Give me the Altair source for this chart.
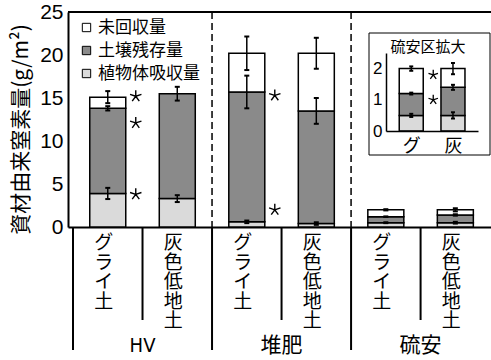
import altair as alt
import pandas as pd

# Treatments, soils and stacked components (g/m2)
groups = ["HV", "堆肥", "硫安"]
soils = ["グライ土", "灰色低地土"]
series = ["未回収量", "土壌残存量", "植物体吸収量"]
series_colors = ["#ffffff", "#8a8a8a", "#dadada"]

plant = [3.9, 3.3, 0.6, 0.4, 0.5, 0.5]
soil_resid = [9.9, 12.2, 15.1, 13.1, 0.7, 0.9]
unrecovered = [1.3, 0.0, 4.5, 6.7, 0.8, 0.6]

plant_err = [0.65, 0.4, 0.15, 0.15, 0.05, 0.1]
soil_err = [0.25, 0.8, 1.9, 1.5, 0.03, 0.08]
total_err = [0.7, 0.0, 1.95, 1.8, 0.07, 0.18]

# significance marks: bar index and height
star_idx = [0, 0, 0, 2, 2]
star_y = [15.2, 12.1, 3.8, 15.3, 2.0]
inset_star_idx = [4, 4]
inset_star_y = [1.8, 1.0]

y_ticks = [0, 5, 10, 15, 20, 25]
inset_ticks = [0, 1, 2]
inset_labels = ["グ", "灰"]
inset_title = "硫安区拡大"
y_title = "資材由来窒素量(g/m²)"

JP = "Noto Sans CJK JP"
NARROW = "'Liberation Sans Narrow', 'DejaVu Sans Condensed', 'Liberation Sans'"
n_bars = len(groups) * len(soils)
first_inset = 4

bar_rows, err_rows = [], []
for i in range(n_bars):
    b1 = plant[i]
    b2 = b1 + soil_resid[i]
    b3 = b2 + unrecovered[i]
    for name, lo, hi in [("植物体吸収量", 0.0, b1), ("土壌残存量", b1, b2), ("未回収量", b2, b3)]:
        if hi > lo:
            bar_rows.append(dict(idx=i, sub=i - first_inset, series=name, y0=lo, y1=hi))
    for top, e in [(b1, plant_err[i]), (b2, soil_err[i]), (b3, total_err[i])]:
        if e > 0:
            err_rows.append(dict(idx=i, sub=i - first_inset, lo=top - e, hi=top + e))

bars_df = pd.DataFrame(bar_rows)
err_df = pd.DataFrame(err_rows)
inset_bars_df = bars_df[bars_df.idx >= first_inset]
inset_err_df = err_df[err_df.idx >= first_inset]

stars_df = pd.DataFrame({"idx": star_idx, "y": star_y})
inset_stars_df = pd.DataFrame({"sub": [i - first_inset for i in inset_star_idx], "y": inset_star_y})

cat_df = pd.DataFrame({
    "idx": list(range(n_bars)),
    "label": ["\n".join(soils[i % 2]) for i in range(n_bars)],
})
grp_df = pd.DataFrame({"x": [2 * k + 0.5 for k in range(len(groups))], "label": groups})
short_sep = pd.DataFrame({"x": [2 * k + 0.5 for k in range(len(groups))]})
long_sep = pd.DataFrame({"x": [2 * k - 0.5 for k in range(len(groups))]})
dash_sep = pd.DataFrame({"x": [2 * k - 0.5 for k in range(1, len(groups))]})
top_df = pd.DataFrame({"y": [y_ticks[-1]]})

STAR = "M0,-1L0,0M0,0L0.95,-0.31M0,0L0.59,0.81M0,0L-0.59,0.81M0,0L-0.95,-0.31"

W, H = 423, 215
x_scale = alt.Scale(domain=[-0.5, -0.5 + W / 71.2], nice=False, zero=False)
y_scale = alt.Scale(domain=[0, 25], nice=False)
x_axis = alt.Axis(labels=False, ticks=False, grid=False, title=None,
                  domainWidth=2, domainColor="black")
y_axis = alt.Axis(values=y_ticks, ticks=False, grid=False, domainWidth=2, domainColor="black",
                  labelFont="Liberation Sans", labelFontSize=21, labelColor="black", labelPadding=5,
                  title=y_title, titleFont=JP, titleFontSize=21, titleFontWeight="normal",
                  titleColor="black", titlePadding=8, titleY=117)


def X(field):
    return alt.X(field, type="quantitative", scale=x_scale, axis=x_axis)


def Y(field):
    return alt.Y(field, type="quantitative", scale=y_scale, axis=y_axis)


color = alt.Color("series:N", scale=alt.Scale(domain=series, range=series_colors),
                  legend=alt.Legend(title=None, orient="none", legendX=10, legendY=7,
                                    symbolType="square", symbolSize=70, symbolStrokeColor="black",
                                    symbolStrokeWidth=1, symbolOpacity=1,
                                    labelFont=JP, labelFontSize=17, labelColor="black",
                                    labelOffset=3, rowPadding=5, padding=0))

bars = alt.Chart(bars_df).mark_bar(width=36, stroke="black", strokeWidth=1.5).encode(
    x=X("idx"), y=Y("y0"), y2="y1", color=color)

err_rule = alt.Chart(err_df).mark_rule(strokeWidth=1.5, color="black").encode(
    x=X("idx"), y=Y("lo"), y2="hi")
err_cap = alt.Chart(err_df).transform_fold(["lo", "hi"], as_=["k", "v"]).mark_tick(
    orient="horizontal", size=5, thickness=2, color="black", opacity=1).encode(
    x=X("idx"), y=Y("v:Q"))

stars = alt.Chart(stars_df).mark_point(shape=STAR, size=144, filled=False, stroke="black",
                                       strokeWidth=1.4, opacity=1, xOffset=28).encode(
    x=X("idx"), y=Y("y"))

top_line = alt.Chart(top_df).mark_rule(strokeWidth=2, color="black").encode(y=Y("y"))

dashed = alt.Chart(dash_sep).mark_rule(strokeWidth=1.5, color="black", strokeDash=[7, 4]).encode(
    x=X("x"))

sep_short = alt.Chart(short_sep).mark_rule(strokeWidth=2, color="black").encode(
    x=X("x"), y=alt.value(H), y2=alt.value(308))
sep_long = alt.Chart(long_sep).mark_rule(strokeWidth=2, color="black").encode(
    x=X("x"), y=alt.value(H), y2=alt.value(338))

cat_text = alt.Chart(cat_df).mark_text(baseline="top", align="center", font=JP, fontSize=19,
                                       lineHeight=19.5, lineBreak="\n", dx=-4, color="black").encode(
    x=X("idx"), y=alt.value(222), text="label:N")

grp_hv = alt.Chart(grp_df[grp_df.label == "HV"]).mark_text(
    baseline="middle", align="center", font=NARROW, fontSize=20, color="black").encode(
    x=X("x"), y=alt.value(334), text="label:N")
grp_jp = alt.Chart(grp_df[grp_df.label != "HV"]).mark_text(
    baseline="middle", align="center", font=JP, fontSize=21, color="black").encode(
    x=X("x"), y=alt.value(334), text="label:N")

main = alt.layer(top_line, dashed, bars, err_rule, err_cap, stars,
                 sep_short, sep_long, cat_text, grp_hv, grp_jp)

# Enlarged view of the ammonium sulfate plots
xi_scale = alt.Scale(domain=[-0.485, 1.48], range=[318, 410], nice=False, zero=False)
yi_scale = alt.Scale(domain=[0, 2.5], range=[119, 41], nice=False)
label_expr = "[" + ",".join(f"'{s}'" for s in inset_labels) + "][datum.value]"
xi_axis = alt.Axis(orient="bottom", offset=-(H - 119), values=[0, 1], labelExpr=label_expr,
                   ticks=False, grid=False, domainWidth=1.5, domainColor="black",
                   labelFont=JP, labelFontSize=18, labelColor="black", labelPadding=6,
                   labelFlush=False, title=None, zindex=2)
yi_axis = alt.Axis(orient="left", offset=-318, values=inset_ticks, ticks=False, grid=False,
                   domainWidth=1.5, domainColor="black", labelFont="Liberation Sans",
                   labelFontSize=17, labelColor="black", labelPadding=4, title=None, zindex=2)


def XI(field):
    return alt.X(field, type="quantitative", scale=xi_scale, axis=xi_axis)


def YI(field):
    return alt.Y(field, type="quantitative", scale=yi_scale, axis=yi_axis)


frame = alt.Chart(pd.DataFrame({"a": [0]})).mark_rect(fill="white", stroke="black", strokeWidth=1).encode(
    x=alt.value(301), x2=alt.value(422), y=alt.value(21), y2=alt.value(143))
frame_title = alt.Chart(pd.DataFrame({"a": [0]})).mark_text(
    font=JP, fontSize=15, color="black", baseline="middle", align="center").encode(
    x=alt.value(360), y=alt.value(35), text=alt.value(inset_title))
ibars = alt.Chart(inset_bars_df).mark_bar(width=24, stroke="black", strokeWidth=1.5).encode(
    x=XI("sub"), y=YI("y0"), y2="y1", color=color)
ierr_rule = alt.Chart(inset_err_df).mark_rule(strokeWidth=1.5, color="black").encode(
    x=XI("sub"), y=YI("lo"), y2="hi")
ierr_cap = alt.Chart(inset_err_df).transform_fold(["lo", "hi"], as_=["k", "v"]).mark_tick(
    orient="horizontal", size=4, thickness=2, color="black", opacity=1).encode(
    x=XI("sub"), y=YI("v:Q"))
istars = alt.Chart(inset_stars_df).mark_point(shape=STAR, size=100, filled=False, stroke="black",
                                              strokeWidth=1.3, opacity=1, xOffset=22).encode(
    x=XI("sub"), y=YI("y"))

inset = alt.layer(frame, frame_title, ibars, ierr_rule, ierr_cap, istars)

chart = alt.layer(main, inset).resolve_scale(x="independent", y="independent").properties(
    width=W, height=H,
    autosize=alt.AutoSizeParams(type="none"),
    padding={"left": 68, "top": 12, "right": 0, "bottom": 133},
    background="white",
).configure_view(stroke=None)

chart.save("out.html", embed_options={"renderer": "svg", "actions": False})
